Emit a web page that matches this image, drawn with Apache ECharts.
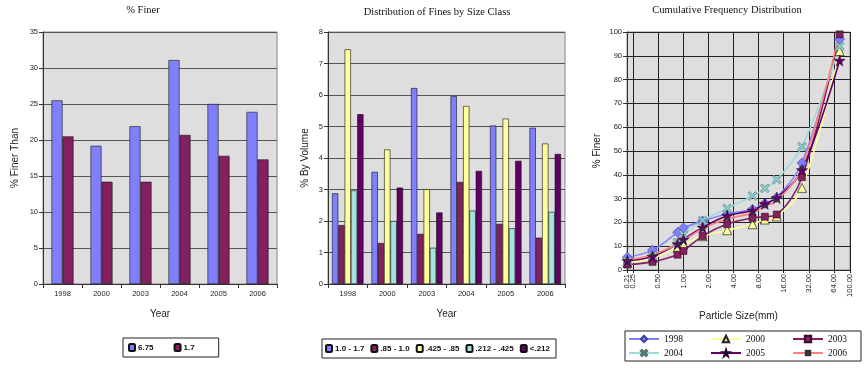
<!DOCTYPE html>
<html>
<head>
<meta charset="utf-8">
<script src="https://cdn.jsdelivr.net/npm/echarts@6/dist/echarts.min.js"></script>
<style>
html,body{margin:0;padding:0;background:#fff;}
#c{width:867px;height:379px;}
</style>
</head>
<body>
<div id="c"></div>
<script>
// ---------- Chart 1: % Finer ----------
const years = ['1998', '2000', '2003', '2004', '2005', '2006'];
const finer675 = [25.5, 19.2, 21.9, 31.1, 25.0, 23.9];
const finer17 = [20.5, 14.2, 14.2, 20.7, 17.8, 17.3];

// ---------- Chart 2: Distribution of Fines by Size Class ----------
const sizeClassNames = ['1.0 - 1.7', '.85 - 1.0', '.425 - .85', '.212 - .425', '<.212'];
const cls_10_17 = [2.88, 3.56, 6.22, 5.96, 5.03, 4.96];
const cls_085_10 = [1.87, 1.30, 1.59, 3.24, 1.91, 1.47];
const cls_0425_085 = [7.45, 4.27, 3.01, 5.65, 5.25, 4.46];
const cls_0212_0425 = [2.97, 2.00, 1.15, 2.33, 1.77, 2.29];
const cls_lt0212 = [5.39, 3.06, 2.27, 3.59, 3.91, 4.13];

// ---------- Chart 3: Cumulative Frequency Distribution ----------
const particleSizes = [0.212, 0.425, 0.85, 1.0, 1.7, 3.35, 6.75, 9.5, 13.2, 26.5, 75];
const xTickValues = [0.21, 0.25, 0.5, 1, 2, 4, 8, 16, 32, 64, 100];
const xLabelsMain = [0.21, 0.5, 1, 2, 4, 8, 16, 32, 64, 100];
const xLabelsExtra = [0.25];
const cum1998 = [5.39, 8.36, 15.81, 17.68, 20.56, 23.5, 25.5, 28.0, 30.5, 45.0, 97];
const cum2000 = [3.06, 5.06, 9.33, 10.63, 14.19, 16.7, 19.2, 21.2, 22.5, 34.5, 92];
const cum2003 = [2.27, 3.42, 6.43, 8.02, 14.24, 19.3, 21.9, 22.4, 23.3, 39.0, 99];
const cum2004 = [3.59, 5.92, 11.57, 14.81, 20.77, 25.9, 31.1, 34.3, 38.0, 51.8, 94];
const cum2005 = [3.91, 5.68, 10.93, 12.84, 17.87, 22.8, 25.0, 27.8, 30.3, 42.0, 88];
const cum2006 = [4.13, 6.42, 10.88, 12.35, 17.31, 21.5, 23.9, 26.8, 29.0, 43.0, 100];
const legendRow1 = ['1998', '2000', '2003'];
const legendRow2 = ['2004', '2005', '2006'];

const SANS = 'Liberation Sans, Arial, sans-serif';
const SERIF = 'Liberation Serif, Times New Roman, serif';
const PLOT_BG = '#DEDEDE';
const lblStyle = {fontFamily: SANS, fontSize: 7.5, color: '#222'};
const nameStyle = {fontFamily: SANS, fontSize: 10, color: '#222'};

const STAR = 'path://M50,0 L61,35 L98,35 L68,57 L79,91 L50,70 L21,91 L32,57 L2,35 L39,35 Z';
const XMARK = 'path://M0,18 L18,0 L50,32 L82,0 L100,18 L68,50 L100,82 L82,100 L50,68 L18,100 L0,82 L32,50 Z';

function catAxis(gi, name, gap) {
  return {
    type: 'category', gridIndex: gi, data: years,
    name: name, nameLocation: 'middle', nameGap: gap, nameTextStyle: nameStyle,
    axisLine: {lineStyle: {color: '#333', width: 1}},
    axisTick: {show: true, alignWithLabel: false, length: 4, lineStyle: {color: '#333'}},
    axisLabel: Object.assign({margin: 6}, lblStyle),
    splitLine: {show: false}
  };
}
function valAxis(gi, max, interval, name, gap) {
  return {
    type: 'value', gridIndex: gi, min: 0, max: max, interval: interval,
    name: name, nameLocation: 'middle', nameGap: gap, nameTextStyle: nameStyle,
    axisLine: {show: true, lineStyle: {color: '#333', width: 1}},
    axisTick: {show: true, length: 4, lineStyle: {color: '#333'}},
    axisLabel: Object.assign({margin: 5}, lblStyle),
    splitLine: {show: true, lineStyle: {color: '#555', width: 1}}
  };
}
function barSeries(name, data, color, gi, w) {
  return {
    type: 'bar', name: name, data: data, xAxisIndex: gi, yAxisIndex: gi,
    barWidth: w, barGap: '0%',
    itemStyle: {color: color, borderColor: '#111', borderWidth: 0.6},
    emphasis: {disabled: true}
  };
}
function lineSeries(name, vals, color, symbol, size, symColor, symBorder, symBorderW) {
  return {
    type: 'line', name: name, xAxisIndex: 2, yAxisIndex: 2,
    data: particleSizes.map((s, i) => [s, vals[i]]),
    smooth: 0.35, symbol: symbol, symbolSize: size, showAllSymbol: true,
    lineStyle: {color: color, width: 1.6},
    itemStyle: {color: symColor, borderColor: symBorder, borderWidth: symBorderW},
    emphasis: {disabled: true}, z: 3
  };
}
function yearLegend(top, data, pad, bordered) {
  return {
    left: 625, top: top, orient: 'horizontal', data: data,
    itemWidth: 30, itemHeight: 8, itemGap: 27, padding: pad,
    borderColor: bordered ? '#222' : 'transparent', borderWidth: bordered ? 1 : 0,
    selectedMode: false,
    textStyle: {fontFamily: SERIF, fontSize: 9.5, color: '#111'}
  };
}
function logAxis(labels, main) {
  return {
    type: 'log', gridIndex: 2, logBase: 2, min: 0.21, max: 100, position: 'bottom', offset: 0,
    name: main ? 'Particle Size(mm)' : '', nameLocation: 'middle', nameGap: 41, nameTextStyle: nameStyle,
    axisLine: {show: main, onZero: false, lineStyle: {color: '#222'}},
    axisTick: {show: main, customValues: xTickValues, length: 3, lineStyle: {color: '#222'}},
    axisLabel: Object.assign({customValues: labels, rotate: 90, margin: 4,
      showMinLabel: true, showMaxLabel: true, hideOverlap: false,
      formatter: v => Number(v).toFixed(2)}, lblStyle),
    splitLine: {show: main, lineStyle: {color: '#222', width: 1}},
    minorTick: {show: false}, minorSplitLine: {show: false}
  };
}

const option = {
  animation: false,
  backgroundColor: '#fff',
  title: [
    {text: '% Finer', left: 138, top: 0, textAlign: 'center',
     textStyle: {fontFamily: SERIF, fontSize: 10.5, fontWeight: 'normal', color: '#111'}},
    {text: 'Distribution of Fines by Size Class', left: 432, top: 2, textAlign: 'center',
     textStyle: {fontFamily: SERIF, fontSize: 10.5, fontWeight: 'normal', color: '#111'}},
    {text: 'Cumulative Frequency Distribution', left: 722, top: 0, textAlign: 'center',
     textStyle: {fontFamily: SERIF, fontSize: 10.5, fontWeight: 'normal', color: '#111'}}
  ],
  grid: [
    {left: 43, top: 32, width: 234, height: 252, show: true, backgroundColor: PLOT_BG, borderColor: '#888', borderWidth: 1},
    {left: 328, top: 32, width: 237, height: 252, show: true, backgroundColor: PLOT_BG, borderColor: '#888', borderWidth: 1},
    {left: 627, top: 32, width: 223, height: 238, show: true, backgroundColor: PLOT_BG, borderColor: '#888', borderWidth: 1}
  ],
  legend: [
    {left: 123, top: 338, orient: 'horizontal', data: ['6.75', '1.7'],
     itemWidth: 6, itemHeight: 7, itemGap: 20, padding: [5, 24, 5, 5],
     borderColor: '#222', borderWidth: 1, selectedMode: false,
     textStyle: {fontFamily: SANS, fontSize: 8, fontWeight: 'bold', color: '#111', padding: [0, 0, 0, -2]}},
    {left: 322, top: 339, orient: 'horizontal', data: sizeClassNames,
     itemWidth: 6, itemHeight: 7, itemGap: 6, padding: [5, 6, 5, 3],
     borderColor: '#222', borderWidth: 1, selectedMode: false,
     textStyle: {fontFamily: SANS, fontSize: 8, fontWeight: 'bold', color: '#111', padding: [0, 0, 0, -2]}},
    yearLegend(331, legendRow1, [3, 14, 17, 3], true),
    yearLegend(345, legendRow2, [3, 14, 3, 3], false)
  ],
  xAxis: [
    catAxis(0, 'Year', 25),
    catAxis(1, 'Year', 25),
    logAxis(xLabelsMain, true),
    logAxis(xLabelsExtra, false)
  ],
  yAxis: [
    valAxis(0, 35, 5, '% Finer Than', 23),
    valAxis(1, 8, 1, '% By Volume', 18),
    Object.assign(valAxis(2, 100, 10, '% Finer', 25), {
      splitLine: {show: true, lineStyle: {color: '#222', width: 1}}
    })
  ],
  series: [
    barSeries('6.75', finer675, '#8080FF', 0, 11),
    barSeries('1.7', finer17, '#822060', 0, 11),
    barSeries(sizeClassNames[0], cls_10_17, '#8080FF', 1, 6.3),
    barSeries(sizeClassNames[1], cls_085_10, '#822060', 1, 6.3),
    barSeries(sizeClassNames[2], cls_0425_085, '#FFFF99', 1, 6.3),
    barSeries(sizeClassNames[3], cls_0212_0425, '#A6E3DF', 1, 6.3),
    barSeries(sizeClassNames[4], cls_lt0212, '#600064', 1, 6.3),
    lineSeries('1998', cum1998, '#8080FF', 'diamond', 10, '#8080FF', '#4040A0', 0.6),
    lineSeries('2000', cum2000, '#FFFF99', 'triangle', 9, '#FFFF99', '#222', 0.7),
    lineSeries('2003', cum2003, '#822060', 'rect', 7, '#822060', '#3a0a2a', 0.6),
    lineSeries('2004', cum2004, '#99DDDD', XMARK, 9, '#88CCCC', '#557777', 0.6),
    lineSeries('2005', cum2005, '#600064', STAR, 11, '#600064', '#300030', 0.6),
    lineSeries('2006', cum2006, '#FF8080', 'rect', [5, 2], '#333', '#333', 0)
  ]
};

const chart = echarts.init(document.getElementById('c'), null, {renderer: 'canvas'});
chart.setOption(option);
</script>
</body>
</html>
